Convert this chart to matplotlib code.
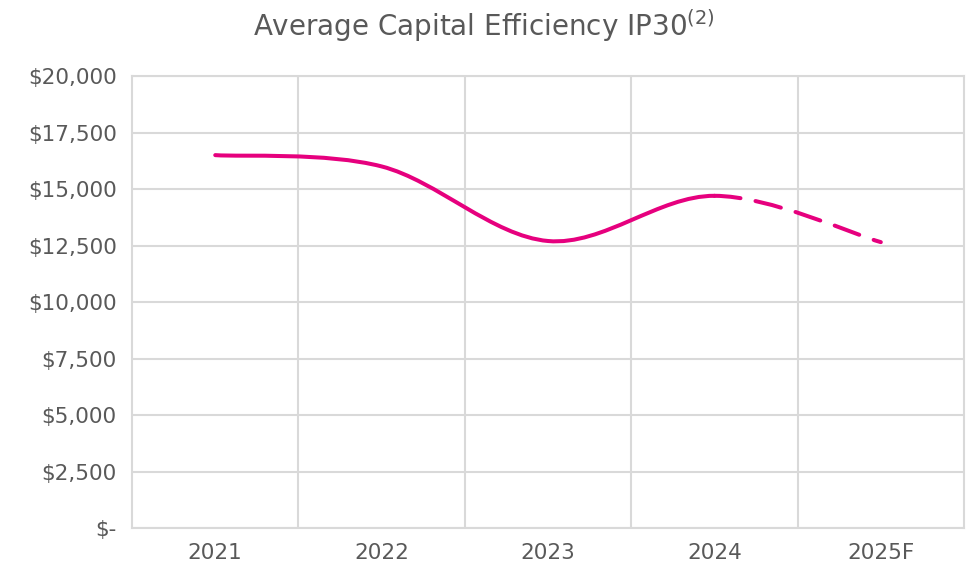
import matplotlib
matplotlib.use("Agg")
import matplotlib.pyplot as plt
import numpy as np
from matplotlib.path import Path
from matplotlib.patches import PathPatch

years = ["2021", "2022", "2023", "2024", "2025F"]
efficiency = [16500, 16000, 12700, 14700, 12650]
n_actual = 4  # 2021-2024 actual, last one forecast (dashed)

y_ticks = [0, 2500, 5000, 7500, 10000, 12500, 15000, 17500, 20000]
y_labels = ["$-", "$2,500", "$5,000", "$7,500", "$10,000",
            "$12,500", "$15,000", "$17,500", "$20,000"]

PINK = "#E6007E"
GRID = "#D9D9D9"
TXT = "#595959"

plt.rcParams['font.family'] = ['DejaVu Sans']
plt.rcParams['mathtext.default'] = 'regular'


def smooth_segments(xs, ys):
    # excel-style smoothed line: one cubic bezier per pair of points
    pts = np.column_stack([xs, ys]).astype(float)
    ext = np.vstack([pts[0], pts, pts[-1]])
    segs = []
    for i in range(len(pts) - 1):
        p0, p1, p2, p3 = ext[i], ext[i + 1], ext[i + 2], ext[i + 3]
        c1 = p1 + (p2 - p0) / 6.0
        c2 = p2 - (p3 - p1) / 6.0
        segs.append([p1, c1, c2, p2])
    return segs


def make_path(segs):
    verts = [segs[0][0]]
    codes = [Path.MOVETO]
    for s in segs:
        verts += [s[1], s[2], s[3]]
        codes += [Path.CURVE4] * 3
    return Path(verts, codes)


fig = plt.figure(figsize=(9.68, 5.76), dpi=100)
ax = fig.add_axes([0.1364, 0.0833, 0.8595, 0.7847])

x = np.arange(len(years))
segs = smooth_segments(x, efficiency)

solid = PathPatch(make_path(segs[:n_actual - 1]), fill=False, edgecolor=PINK,
                  linewidth=2.9, capstyle='round', joinstyle='round', zorder=3)
ax.add_patch(solid)
dashed = PathPatch(make_path(segs[n_actual - 1:]), fill=False, edgecolor=PINK,
                   linewidth=2.9, linestyle=(0, (6.5, 3.8)), capstyle='round',
                   zorder=3)
ax.add_patch(dashed)

ax.set_xlim(-0.5, len(years) - 0.5)
ax.set_ylim(0, 20000)

ax.set_xticks(x)
ax.set_xticklabels(years)
ax.set_xticks(x[:-1] + 0.5, minor=True)
ax.set_yticks(y_ticks)
ax.set_yticklabels([l.replace("$", r"\$") for l in y_labels])

ax.grid(True, axis='y', which='major', color=GRID, linewidth=1.5)
ax.grid(True, axis='x', which='minor', color=GRID, linewidth=1.5)
ax.grid(False, axis='x', which='major')
ax.set_axisbelow(True)

ax.tick_params(axis='both', which='both', length=0, labelsize=15.5,
               labelcolor=TXT)
ax.tick_params(axis='y', pad=11)
ax.tick_params(axis='x', pad=11)
for sp in ax.spines.values():
    sp.set_color(GRID)
    sp.set_linewidth(1.5)

fig.text(0.5, 0.955, "Average Capital Efficiency IP30$^{(2)}$", ha='center',
         va='center', fontsize=20, color=TXT)

fig.savefig("out.png", dpi=100, facecolor='white')
